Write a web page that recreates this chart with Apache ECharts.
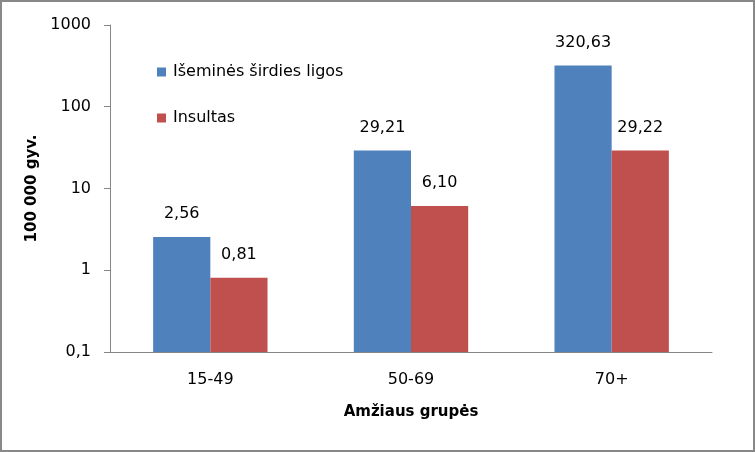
<!DOCTYPE html>
<html><head><meta charset="utf-8">
<script src="https://cdn.jsdelivr.net/npm/echarts@6/dist/echarts.min.js"></script>
<style>html,body{margin:0;padding:0;background:#fff}#c{width:755px;height:452px}</style>
</head><body><div id="c"></div>
<script>
var categories = ['15-49', '50-69', '70+'];
var seriesNames = ['Išeminės širdies ligos', 'Insultas'];
var ischemic = [2.56, 29.21, 320.63];
var stroke = [0.81, 6.10, 29.22];
var yTicks = [0.1, 1, 10, 100, 1000];

var font = 'DejaVu Sans';
function fmt(v){ return v.toFixed(2).replace('.', ','); }
var chart = echarts.init(document.getElementById('c'), null, {renderer:'canvas'});
chart.setOption({
  animation: false,
  textStyle: {fontFamily: font, color: '#000'},
  graphic: [{type:'rect', shape:{x:1,y:1,width:753,height:450}, style:{fill:'none', stroke:'#888888', lineWidth:2}, silent:true}],
  legend: {
    orient: 'vertical', left: 157, top: 64, padding: 0, itemWidth: 9, itemHeight: 9, itemGap: 30,
    icon: 'rect',
    textStyle: {fontFamily: font, fontSize: 16, lineHeight: 16, color: '#000', padding:[0,0,0,2]},
    data: seriesNames
  },
  grid: {left: 110, top: 25, right: 43, bottom: 100, containLabel: false},
  xAxis: {
    type: 'category', data: categories,
    name: 'Amžiaus grupės', nameLocation: 'middle', nameGap: 53,
    nameTextStyle: {fontFamily: font, fontSize: 15, fontWeight: 'bold', color: '#000'},
    axisLine: {lineStyle: {color: '#868686', width: 1}},
    axisTick: {show: false},
    axisLabel: {fontFamily: font, fontSize: 16, color: '#000', margin: 20}
  },
  yAxis: {
    type: 'log', logBase: 10, min: yTicks[0], max: yTicks[yTicks.length-1], startValue: yTicks[0],
    name: '100 000 gyv.', nameLocation: 'middle', nameGap: 66, nameRotate: 90,
    nameTextStyle: {fontFamily: font, fontSize: 15, fontWeight: 'bold', color: '#000'},
    axisLine: {show: true, lineStyle: {color: '#868686', width: 1}},
    axisTick: {show: true, length: 6, lineStyle: {color: '#868686'}},
    splitLine: {show: false},
    axisLabel: {fontFamily: font, fontSize: 16, color: '#000', margin: 19,
      formatter: function(v){ return String(+v.toPrecision(6)).replace('.', ','); }}
  },
  series: [
    {name: seriesNames[0], type: 'bar', data: ischemic, barGap: '0%', barCategoryGap: '43%',
     itemStyle: {color: '#4F81BD'},
     label: {show: true, position: 'top', distance: 15, fontFamily: font, fontSize: 16, color: '#000', formatter: function(p){return fmt(p.value);}}},
    {name: seriesNames[1], type: 'bar', data: stroke, barGap: '0%', barCategoryGap: '43%',
     itemStyle: {color: '#C0504D'},
     label: {show: true, position: 'top', distance: 15, fontFamily: font, fontSize: 16, color: '#000', formatter: function(p){return fmt(p.value);}}}
  ]
});
</script></body></html>
